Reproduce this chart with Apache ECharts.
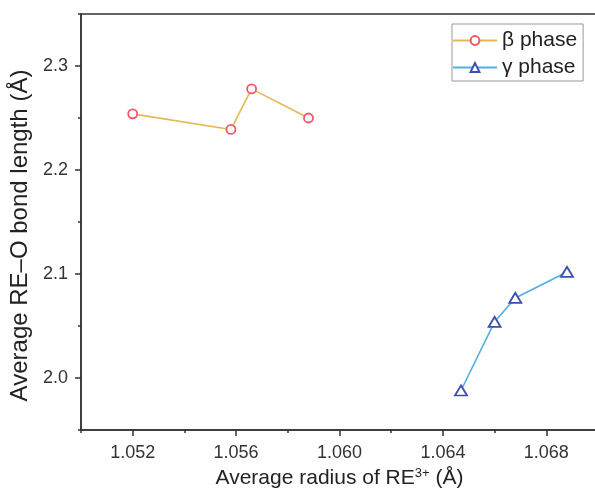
<!DOCTYPE html>
<html>
<head>
<meta charset="utf-8">
<script src="https://cdn.jsdelivr.net/npm/echarts@6/dist/echarts.min.js"></script>
<style>html,body{margin:0;padding:0;background:#fff}#c{width:595px;height:488px}</style>
</head>
<body>
<div id="c"></div>
<script>
const betaX = [1.0520, 1.0558, 1.0566, 1.0588];
const betaY = [2.254, 2.239, 2.278, 2.250];
const gammaX = [1.0647, 1.0660, 1.0668, 1.0688];
const gammaY = [1.988, 2.054, 2.077, 2.102];
const xMajorTicks = [1.052, 1.056, 1.060, 1.064, 1.068];
const xMinorTicks = [1.050, 1.054, 1.058, 1.062, 1.066, 1.070];
const yMajorTicks = [2.0, 2.1, 2.2, 2.3];
const yMinorTicks = [1.95, 2.05, 2.15, 2.25, 2.35];
const seriesNames = ['β phase', 'γ phase'];

const font = 'Liberation Sans, Arial, sans-serif';
const axisCol = '#333';

const chart = echarts.init(document.getElementById('c'), null, {renderer: 'canvas'});
chart.setOption({
  animation: false,
  backgroundColor: '#fff',
  grid: {left: 81, top: 14, width: 517, height: 416, show: true, borderColor: axisCol, borderWidth: 1.5,
    containLabel: false, outerBoundsMode: 'none'},
  legend: {
    left: 452, top: 24, orient: 'vertical',
    padding: [6, 6, 3, 0], itemGap: 6, itemWidth: 44, itemHeight: 11,
    borderColor: '#999', borderWidth: 1, backgroundColor: '#fff',
    textStyle: {fontFamily: font, fontSize: 21, color: '#222'},
    data: seriesNames
  },
  xAxis: [{
    type: 'value', min: 1.050, max: 1.070, interval: 0.002,
    name: 'Average radius of RE{sup|3+} (Å)', nameLocation: 'middle', nameGap: 35,
    nameTextStyle: {fontFamily: font, fontSize: 21, color: '#222',
      rich: {sup: {fontSize: 13, verticalAlign: 'top', padding: [0,0,9,0], fontFamily: font, color: '#222'}}},
    axisLine: {show: true, onZero: false, lineStyle: {color: axisCol, width: 1.5}},
    axisTick: {show: true, length: 6, customValues: xMajorTicks, lineStyle: {color: axisCol, width: 1.5}},
    axisLabel: {show: true, customValues: xMajorTicks, margin: 14, fontFamily: font, fontSize: 18, color: '#333',
      formatter: v => v.toFixed(3)},
    splitLine: {show: false}
  }, {
    type: 'value', min: 1.050, max: 1.070, interval: 0.002, position: 'bottom',
    axisLine: {show: false},
    axisTick: {show: true, length: 3, customValues: xMinorTicks, lineStyle: {color: axisCol, width: 1.5}},
    axisLabel: {show: false}, splitLine: {show: false}
  }],
  yAxis: [{
    type: 'value', min: 1.95, max: 2.35, interval: 0.05,
    name: 'Average RE–O bond length (Å)', nameLocation: 'middle', nameGap: 43,
    nameTextStyle: {fontFamily: font, fontSize: 24, color: '#222', padding: [0, 27, 0, 0]},
    axisLine: {show: true, onZero: false, lineStyle: {color: axisCol, width: 1.5}},
    axisTick: {show: true, length: 6, customValues: yMajorTicks, lineStyle: {color: axisCol, width: 1.5}},
    axisLabel: {show: true, customValues: yMajorTicks, margin: 13, fontFamily: font, fontSize: 18, color: '#333',
      formatter: v => v.toFixed(1)},
    splitLine: {show: false}
  }, {
    type: 'value', min: 1.95, max: 2.35, interval: 0.05, position: 'left',
    axisLine: {show: false},
    axisTick: {show: true, length: 3, customValues: yMinorTicks, lineStyle: {color: axisCol, width: 1.5}},
    axisLabel: {show: false}, splitLine: {show: false}
  }],
  series: [{
    name: seriesNames[0], type: 'line', xAxisIndex: 0, yAxisIndex: 0,
    data: betaX.map((x, i) => [x, betaY[i]]),
    symbol: 'circle', symbolSize: 9, showAllSymbol: true,
    lineStyle: {color: '#e9b751', width: 1.6},
    itemStyle: {color: '#fff', borderColor: '#f2566a', borderWidth: 1.8}
  }, {
    name: seriesNames[1], type: 'line', xAxisIndex: 0, yAxisIndex: 0,
    data: gammaX.map((x, i) => [x, gammaY[i]]),
    symbol: 'triangle', symbolSize: [12, 10], showAllSymbol: true,
    lineStyle: {color: '#4fb0e8', width: 1.6},
    itemStyle: {color: '#fff', borderColor: '#3d4fae', borderWidth: 1.8}
  }]
});
</script>
</body>
</html>
